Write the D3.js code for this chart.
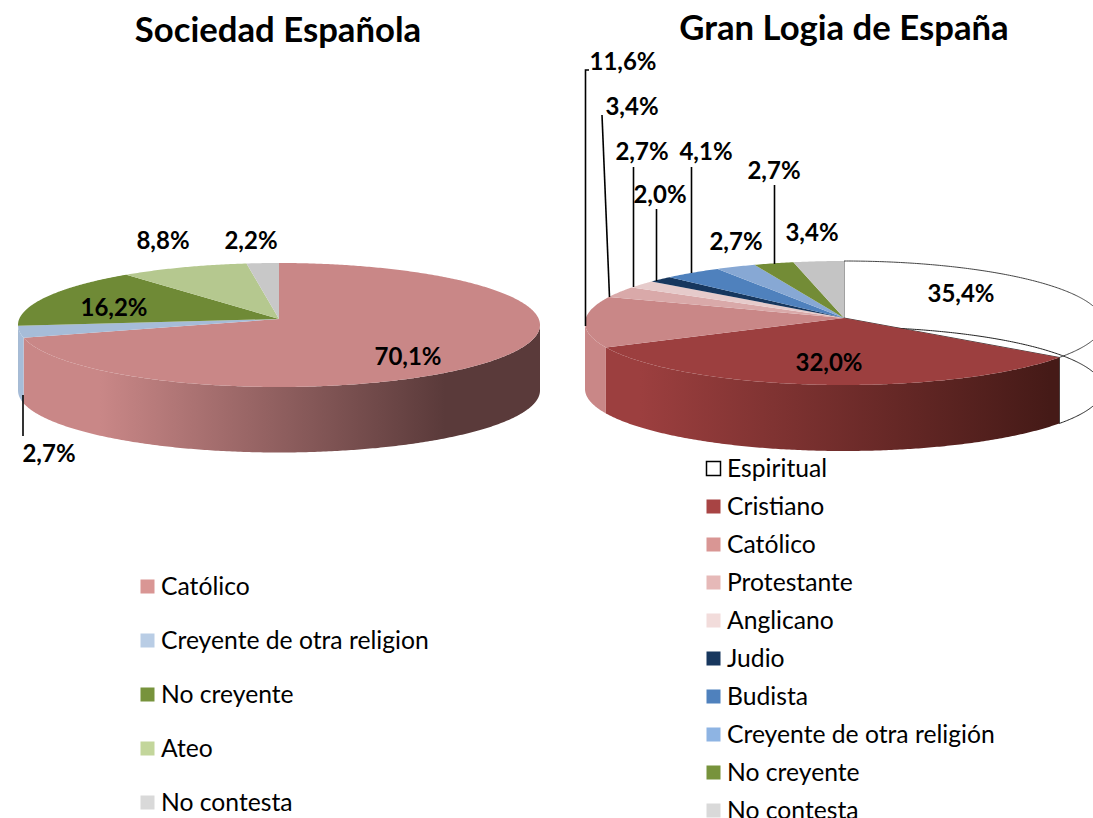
<!DOCTYPE html>
<html>
<head>
<meta charset="utf-8">
<script src="https://cdn.jsdelivr.net/npm/d3@7"></script>
<style>
    html, body { margin: 0; padding: 0; background: #fff; }
    svg { display: block; }
    text { font-family: Lato, "Open Sans", sans-serif; fill: #000; }
    .title { font-size: 34.7px; font-weight: 700; text-anchor: middle; }
    .value { font-size: 24px; font-weight: 700; text-anchor: middle; dominant-baseline: central; }
    .legend-label { font-size: 24.7px; dominant-baseline: central; }
    .leader { stroke: #000; stroke-width: 1.6; fill: none; }
</style>
</head>
<body>
<div id="chart"></div>
<script>
// Sociedad Española
const socCategories = ['Católico', 'Creyente de otra religion', 'No creyente', 'Ateo', 'No contesta'];
const socValues = [70.1, 2.7, 16.2, 8.8, 2.2];
const socLegendColors = ['#d99694', '#b9cde5', '#77933c', '#c3d69b', '#d9d9d9'];
const socFaceColors = ['#c98787', '#a6bcd8', '#6f8a36', '#b5c88f', '#c8c8c8'];

// Gran Logia de España
const logiaCategories = ['Espiritual', 'Cristiano', 'Católico', 'Protestante', 'Anglicano', 'Judio', 'Budista', 'Creyente de otra religión', 'No creyente', 'No contesta'];
const logiaValues = [35.4, 32.0, 11.6, 3.4, 2.7, 2.0, 4.1, 2.7, 2.7, 3.4];
const logiaLegendColors = ['#ffffff', '#a84444', '#d99694', '#e6b9b8', '#f2dcdb', '#17375e', '#4f81bd', '#8eb4e3', '#77933c', '#d9d9d9'];
const logiaFaceColors = ['#ffffff', '#9c3f3f', '#c98787', '#d9a9a9', '#e6cbcb', '#17375e', '#4f81bd', '#87a8d4', '#738c36', '#c4c4c4'];

const formatValue = d => d.toFixed(1).replace('.', ',') + '%';

const width = 1093;
const height = 818;
const degree = Math.PI / 180;

const svg = d3.select('#chart')
  .append('svg')
    .attr('width', width)
    .attr('height', height);

/**
 * Draws one tilted pie with its walls, value labels, leader lines and legend
 */
function drawPie(config) {
    const {cx, cy, apexY, rx, ry, depth, values, faceColors, wallStops, wallX} = config;
    const group = svg.append('g');

    const pieLayout = d3.pie().sort(null).value(d => d);
    const arcs = pieLayout(values);

    // the apex sits behind the centre of the rim, so rays from it land off their
    // plain angle; the far left side also looks stretched by the camera
    const apexShift = (cy - apexY) / ry;
    const warp = t => {
        const bump = (t - 285 * degree) / (20 * degree);
        return t - Math.asin(apexShift * Math.sin(t)) + 6 * degree * Math.exp(-bump * bump);
    };
    const rimPoint = (t, drop = 0) => {
        const a = warp(t);
        return [cx + rx * Math.sin(a), cy - ry * Math.cos(a) + drop];
    };
    const sample = (a0, a1) => {
        const steps = Math.max(2, Math.ceil((a1 - a0) / 0.01));
        return d3.range(steps + 1).map(i => a0 + (a1 - a0) * i / steps);
    };
    const line = d3.line();

    const gradientId = `wall-${config.id}`;
    const gradient = svg.append('defs')
      .append('linearGradient')
        .attr('id', gradientId)
        .attr('gradientUnits', 'userSpaceOnUse')
        .attr('x1', wallX[0])
        .attr('x2', wallX[1])
        .attr('y1', 0)
        .attr('y2', 0);
    gradient.selectAll('stop')
        .data(wallStops)
      .join('stop')
        .attr('offset', (d, i) => i / (wallStops.length - 1))
        .attr('stop-color', d => d);

    // outlined slice (no fill) shows its far rim through the face
    arcs.filter((d, i) => faceColors[i] === '#ffffff').forEach(d => {
        const rim = sample(d.startAngle, d.endAngle);
        group.append('path')
            .attr('d', line(rim.map(t => rimPoint(t))) + 'L' + [cx, apexY] + 'Z')
            .attr('fill', '#fff')
            .attr('stroke', '#444')
            .attr('stroke-width', 1);
        group.append('path')
            .attr('d', line(rim.map(t => rimPoint(t, depth))))
            .attr('fill', 'none')
            .attr('stroke', '#222')
            .attr('stroke-width', 1);
        const end = rimPoint(d.endAngle);
        group.append('path')
            .attr('d', line([end, [end[0], end[1] + depth]]))
            .attr('stroke', '#222')
            .attr('stroke-width', 1);
    });

    // walls, only for the part of each slice facing the viewer
    arcs.forEach((d, i) => {
        if (faceColors[i] === '#ffffff') {
            return;
        }
        const angles = sample(d.startAngle, d.endAngle)
            .filter(t => warp(t) >= Math.PI / 2 && warp(t) <= Math.PI * 1.5);
        if (angles.length < 2) {
            return;
        }
        const top = angles.map(t => rimPoint(t));
        const bottom = angles.slice().reverse().map(t => rimPoint(t, depth));
        group.append('path')
            .attr('d', line(top.concat(bottom)) + 'Z')
            .attr('fill', i === config.wallIndex ? `url(#${gradientId})` : config.wallColors[i] || faceColors[i]);
    });

    // top faces
    arcs.forEach((d, i) => {
        if (faceColors[i] === '#ffffff') {
            return;
        }
        const rim = sample(d.startAngle, d.endAngle).map(t => rimPoint(t));
        group.append('path')
            .attr('d', line(rim) + 'L' + [cx, apexY] + 'Z')
            .attr('fill', faceColors[i]);
    });

    // leader lines
    group.selectAll('.leader')
        .data(config.leaders)
      .join('path')
        .attr('class', 'leader')
        .attr('d', d => line(d));

    // value labels
    group.selectAll('.value')
        .data(values)
      .join('text')
        .attr('class', 'value')
        .attr('x', (d, i) => config.labelAt[i][0])
        .attr('y', (d, i) => config.labelAt[i][1] - 1)
        .text(formatValue);

    group.append('text')
        .attr('class', 'title')
        .attr('x', config.titleAt[0])
        .attr('y', config.titleAt[1])
        .text(config.title);

    // legend
    const legendY = d3.scalePoint()
        .domain(config.categories)
        .range(config.legendRange);
    const items = group.selectAll('.legend-item')
        .data(config.categories)
      .join('g')
        .attr('class', 'legend-item')
        .attr('transform', d => `translate(${config.legendX},${legendY(d)})`);
    items.append('rect')
        .attr('x', 0.5)
        .attr('y', -6.5)
        .attr('width', 14)
        .attr('height', 14)
        .attr('fill', (d, i) => config.legendColors[i])
        .attr('stroke', (d, i) => config.legendColors[i] === '#ffffff' ? '#000' : 'none')
        .attr('stroke-width', 1.5);
    items.append('text')
        .attr('class', 'legend-label')
        .attr('x', 21)
        .attr('y', -1)
        .text(d => d);
}

drawPie({
    id: 'sociedad',
    title: 'Sociedad Española',
    titleAt: [278, 42],
    cx: 279,
    cy: 325,
    apexY: 319,
    rx: 261,
    ry: 62,
    depth: 65.5,
    values: socValues,
    categories: socCategories,
    faceColors: socFaceColors,
    legendColors: socLegendColors,
    wallIndex: 0,
    wallColors: ['', '#a6bcd8', '', '', ''],
    wallStops: ['#c98787', '#5a3a3a'],
    wallX: [100, 445],
    labelAt: [[408, 356], [49, 453], [114, 307], [163, 240], [251, 240]],
    leaders: [[[23, 395], [23, 436]]],
    legendX: 140,
    legendRange: [586, 802]
});

drawPie({
    id: 'logia',
    title: 'Gran Logia de España',
    titleAt: [844, 40],
    cx: 844,
    cy: 323,
    apexY: 318,
    rx: 259,
    ry: 62,
    depth: 66,
    values: logiaValues,
    categories: logiaCategories,
    faceColors: logiaFaceColors,
    legendColors: logiaLegendColors,
    wallIndex: 1,
    wallColors: ['', '', '#c98787', '', '', '', '', '', '', ''],
    wallStops: ['#9c3f3f', '#451a17'],
    wallX: [640, 1050],
    labelAt: [[961, 293], [829, 362], [623, 61], [632, 106], [642, 151], [660, 194], [706, 151], [736, 241], [774, 170], [812, 232]],
    leaders: [
        [[585.5, 326], [585.5, 70], [589, 70]],
        [[602, 115], [609.5, 297]],
        [[633.5, 167], [633.5, 287]],
        [[656.5, 209], [656.5, 281]],
        [[691.5, 167], [691.5, 273]],
        [[774.5, 185], [774.5, 264]]
    ],
    legendX: 706,
    legendRange: [468, 810]
});
</script>
</body>
</html>
